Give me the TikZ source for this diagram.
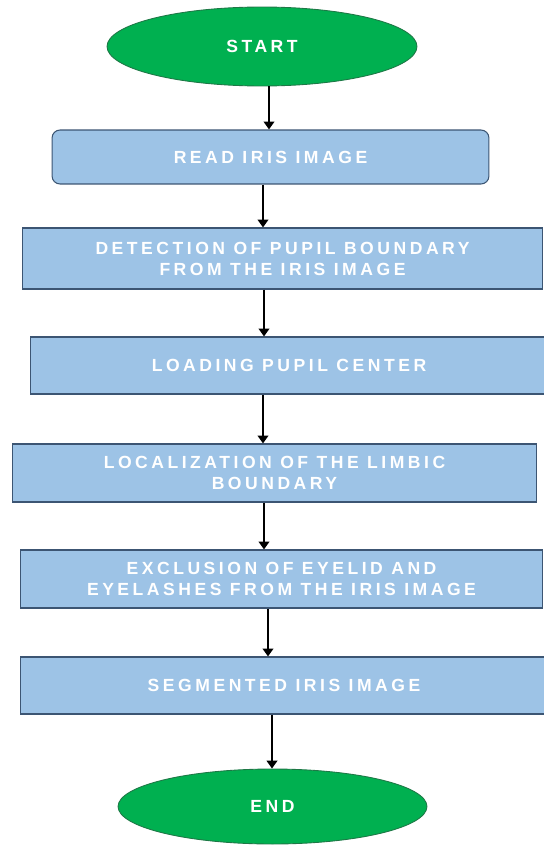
\documentclass[tikz,border=0pt]{standalone}
\usepackage{fontspec}
\setmainfont{Liberation Sans}
\newfontfamily\boxfont{Liberation Sans}[LetterSpace=20]
\usetikzlibrary{shapes.geometric,arrows.meta}
\definecolor{termgreen}{RGB}{0,176,80}
\definecolor{termedge}{RGB}{30,120,70}
\definecolor{stepblue}{RGB}{157,195,230}
\definecolor{stepedge}{RGB}{60,85,115}

\begin{document}
\begin{tikzpicture}[x=0.02cm, y=-0.02cm,
    every node/.style={text=white, font=\boxfont\bfseries\fontsize{10pt}{12pt}\selectfont},
    terminal/.style={ellipse, draw=termedge, fill=termgreen, line width=0.5pt, inner sep=0pt},
    stepbox/.style={rectangle, draw=stepedge, fill=stepblue, line width=0.6pt, align=center, inner sep=0pt},
    flow/.style={line width=1.5pt, -{Triangle[width=6pt,length=4.5pt]}}]
    \useasboundingbox (0,0) rectangle (544,845);

    \node[terminal, minimum width=6.2cm, minimum height=1.58cm] at (262,46.5) (start) {START};
    \node[stepbox, rounded corners=0.16cm, minimum width=8.74cm, minimum height=1.08cm] at (270.5,157) (read) {READ IRIS IMAGE};
    \node[stepbox, minimum width=10.42cm, minimum height=1.22cm] at (282.5,258.5) (detect) {DETECTION OF PUPIL BOUNDARY\\FROM THE IRIS IMAGE};
    \node[stepbox, minimum width=10.36cm, minimum height=1.14cm] at (289,365.5) (loading) {LOADING PUPIL CENTER};
    \node[stepbox, minimum width=10.5cm, minimum height=1.16cm] at (274.5,473) (limbic) {LOCALIZATION OF THE LIMBIC\\BOUNDARY};
    \node[stepbox, minimum width=10.46cm, minimum height=1.16cm] at (281.5,579) (eyelid) {EXCLUSION OF EYELID AND\\EYELASHES FROM THE IRIS IMAGE};
    \node[stepbox, minimum width=10.56cm, minimum height=1.14cm] at (284,685.5) (segment) {SEGMENTED IRIS IMAGE};
    \node[terminal, minimum width=6.18cm, minimum height=1.5cm] at (272.5,806.5) (stop) {END};

    \draw[flow] (start.south -| 269,0) -- (read.north -| 269,0);
    \draw[flow] (read.south -| 263,0) -- (detect.north -| 263,0);
    \draw[flow] (detect.south -| 264,0) -- (loading.north -| 264,0);
    \draw[flow] (loading.south -| 263,0) -- (limbic.north -| 263,0);
    \draw[flow] (limbic.south -| 264,0) -- (eyelid.north -| 264,0);
    \draw[flow] (eyelid.south -| 268,0) -- (segment.north -| 268,0);
    \draw[flow] (segment.south -| 272,0) -- (stop.north -| 272,0);

\end{tikzpicture}
\end{document}
